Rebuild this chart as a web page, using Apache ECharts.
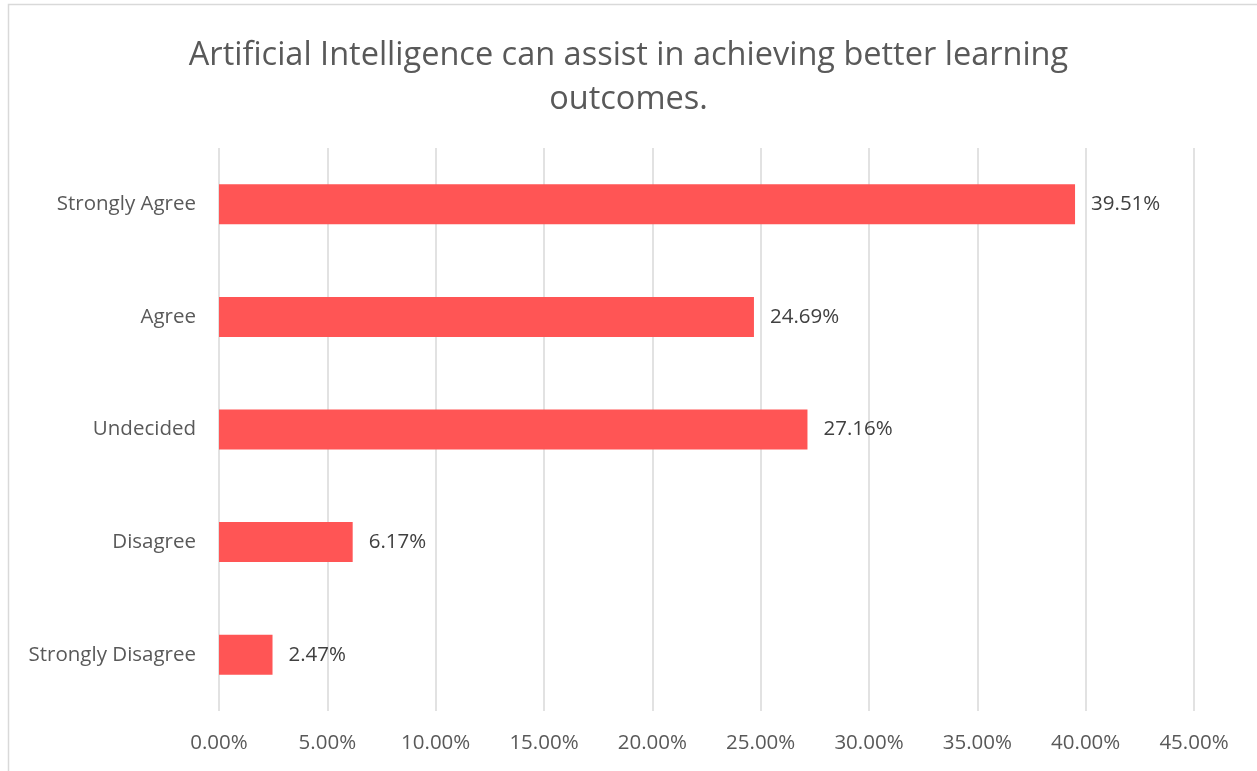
<!DOCTYPE html>
<html>
<head>
<meta charset="utf-8">
<script src="https://cdn.jsdelivr.net/npm/echarts@6/dist/echarts.min.js"></script>
<style>
html,body{margin:0;padding:0;background:#fff;}
#container{width:1257px;height:771px;}
</style>
</head>
<body>
<div id="container"></div>
<script>
// 数据
var categories = ['Strongly Agree', 'Agree', 'Undecided', 'Disagree', 'Strongly Disagree'];
var percents = [39.51, 24.69, 27.16, 6.17, 2.47];
var titleText = 'Artificial Intelligence can assist in achieving better learning\noutcomes.';

var dom = document.getElementById('container');
var myChart = echarts.init(dom);
var fontFam = '"Open Sans", "Noto Sans", sans-serif';

var option = {
    backgroundColor: '#fff',
    animation: false,
    title: {
        text: titleText,
        left: 'center',
        top: 29,
        textStyle: {
            color: '#595959',
            fontSize: 32.5,
            fontWeight: 'normal',
            fontFamily: fontFam,
            lineHeight: 44
        }
    },
    graphic: [{
        type: 'rect',
        shape: {x: 8.5, y: 4.5, width: 1260, height: 780},
        style: {fill: 'none', stroke: '#d9d9d9', lineWidth: 1.5}
    }],
    grid: {
        left: 219,
        right: 63,
        top: 148,
        bottom: 60
    },
    xAxis: {
        type: 'value',
        min: 0,
        max: 45,
        interval: 5,
        axisLine: {show: false},
        axisTick: {show: false},
        splitLine: {lineStyle: {color: '#d9d9d9', width: 1.5}},
        axisLabel: {
            color: '#595959',
            fontSize: 20.5,
            fontFamily: fontFam,
            margin: 22,
            formatter: function (v) { return v.toFixed(2) + '%'; }
        }
    },
    yAxis: {
        type: 'category',
        data: categories,
        inverse: true,
        axisLine: {show: false},
        axisTick: {show: false},
        axisLabel: {
            color: '#595959',
            fontSize: 20.5,
            fontFamily: fontFam,
            margin: 23,
            padding: [4, 0, 0, 0]
        }
    },
    series: [{
        type: 'bar',
        data: percents,
        barWidth: 40,
        itemStyle: {color: '#ff5555'},
        label: {
            show: true,
            position: 'right',
            distance: 16,
            color: '#404040',
            fontSize: 20.5,
            fontFamily: fontFam,
            padding: [4, 0, 0, 0],
            formatter: function (p) { return p.value.toFixed(2) + '%'; }
        }
    }]
};
myChart.setOption(option, true);
</script>
</body>
</html>
